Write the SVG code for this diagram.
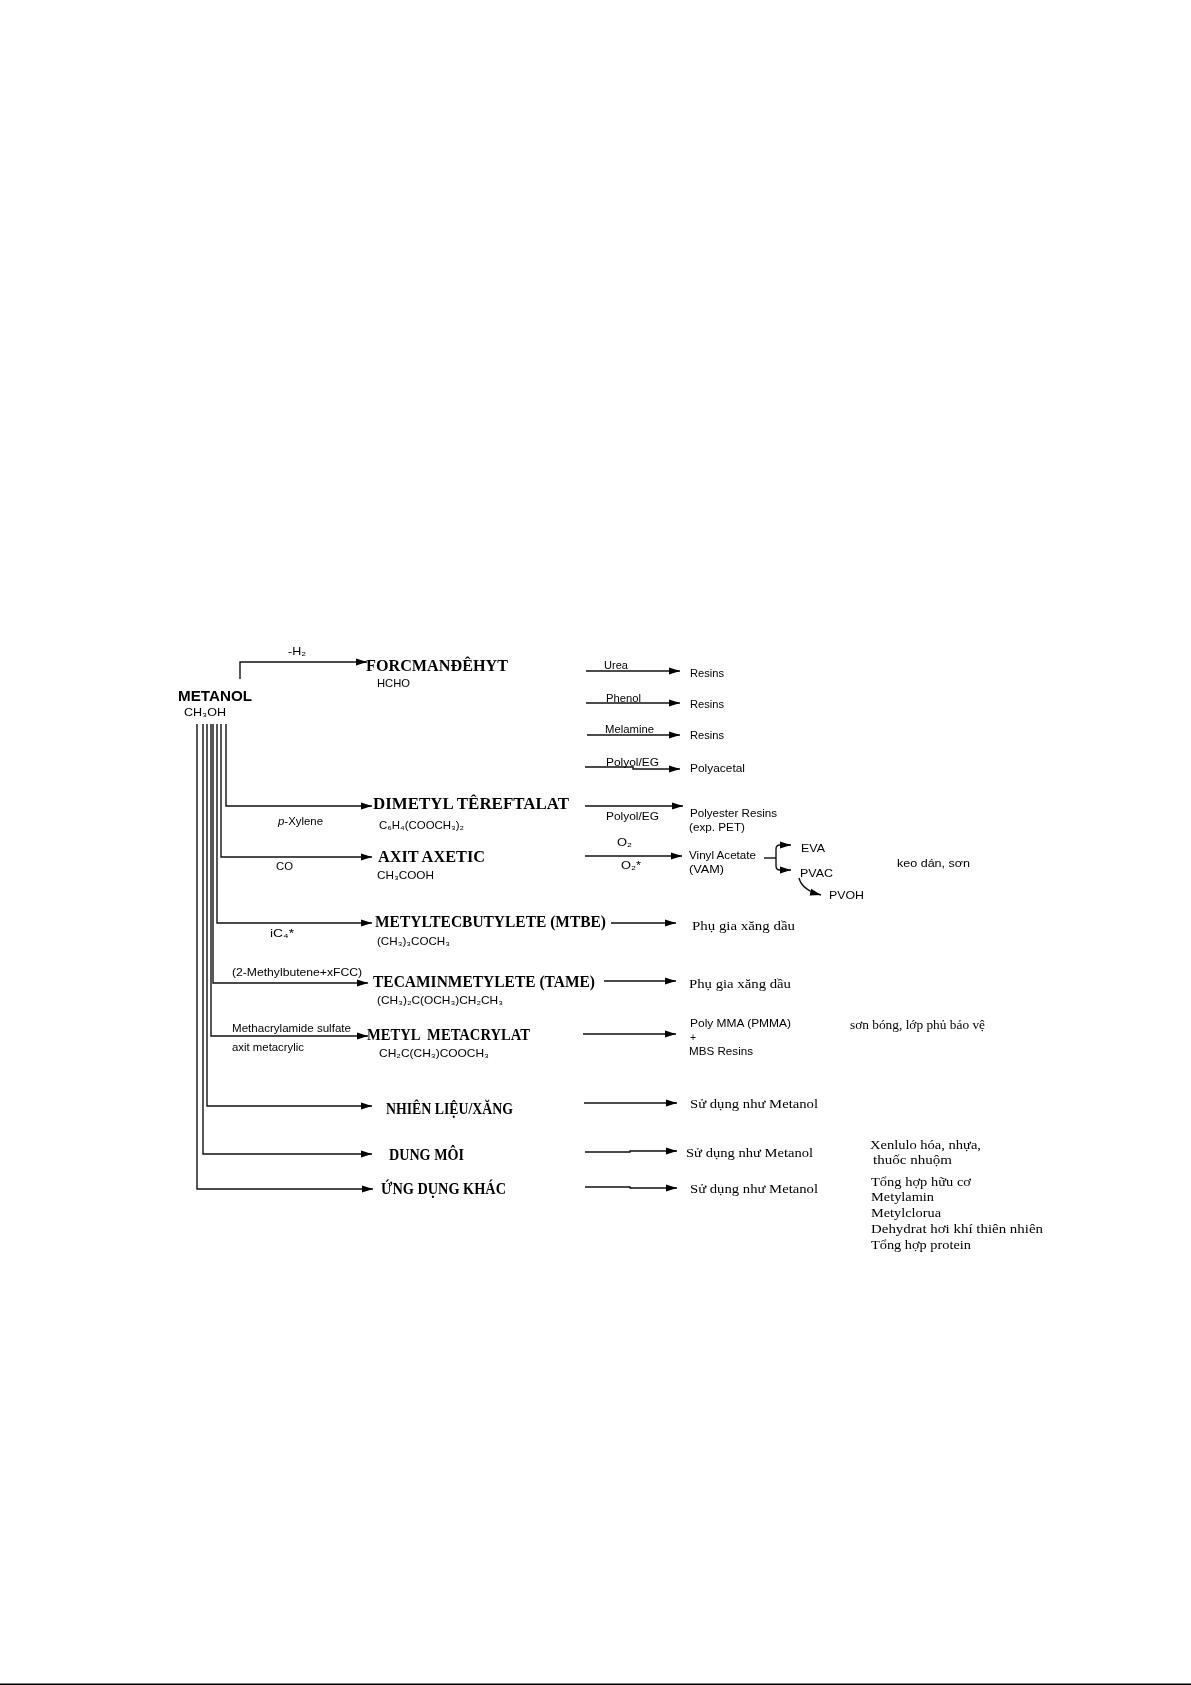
<svg xmlns="http://www.w3.org/2000/svg" width="1191" height="1685" viewBox="0 0 1191 1685">
<style>
text{fill:#000;font-family:"Liberation Sans",Arial,sans-serif;font-size:10.5px}
.h{font-family:"Liberation Serif","Times New Roman",serif;font-weight:bold;font-size:17px}
.m{font-family:"Liberation Sans",Arial,sans-serif;font-weight:bold;font-size:15.5px}
.s{font-family:"Liberation Serif","Times New Roman",serif;font-size:13px}
#connectors path{fill:none;stroke:#111;stroke-width:1.4}
.a{marker-end:url(#arr)}
</style>
<defs>
<marker id="arr" markerUnits="userSpaceOnUse" markerWidth="13" markerHeight="9" refX="11" refY="4.5" orient="auto"><path d="M0 1 L11 4.5 L0 8 Z" fill="#000"/></marker>
<filter id="b" x="-2%" y="-2%" width="104%" height="104%"><feGaussianBlur stdDeviation="0.45"/></filter>
</defs>
<rect width="1191" height="1685" fill="#fff"/>
<rect id="page-edge" x="0" y="1683.5" width="1191" height="1.5" fill="#000"/>
<g filter="url(#b)">
<g id="connectors">
<path class="a" d="M240 679V662H367"/>
<path class="a" d="M226 724V806H372"/>
<path class="a" d="M221 724V857H372"/>
<path class="a" d="M217 724V923H372"/>
<path class="a" d="M213 724V983H368"/>
<path class="a" d="M211 724V1036H368"/>
<path class="a" d="M207 724V1106H372"/>
<path class="a" d="M203 724V1154H372"/>
<path class="a" d="M197 724V1189H373"/>
<path class="a" d="M586 671H680"/>
<path class="a" d="M586 703H680"/>
<path class="a" d="M587 735H680"/>
<path class="a" d="M585 767H633V769H680"/>
<path class="a" d="M585 806H683"/>
<path class="a" d="M585 856H682"/>
<path d="M764 858H776"/>
<path class="a" d="M776 858V849Q776 845 780 845H791"/>
<path class="a" d="M776 858V866Q776 870 780 870H791"/>
<path class="a" d="M799 878Q802 890 821 895"/>
<path class="a" d="M611 923H676"/>
<path class="a" d="M604 981H676"/>
<path class="a" d="M583 1034H676"/>
<path class="a" d="M584 1103H677"/>
<path class="a" d="M585 1152H630V1151H677"/>
<path class="a" d="M585 1187H630V1188H677"/>
</g>
<g id="metanol"><text class="m" x="178" y="701" textLength="74" lengthAdjust="spacingAndGlyphs">METANOL</text><text x="184" y="716" textLength="42" lengthAdjust="spacingAndGlyphs">CH₃OH</text></g>
<g id="formaldehyt"><text class="h" x="366" y="671" textLength="142" lengthAdjust="spacingAndGlyphs">FORCMANĐÊHYT</text><text x="377" y="687" textLength="33" lengthAdjust="spacingAndGlyphs">HCHO</text><text x="288" y="655" textLength="18" lengthAdjust="spacingAndGlyphs">-H₂</text></g>
<g id="dimetyl"><text class="h" x="373" y="809" textLength="196" lengthAdjust="spacingAndGlyphs">DIMETYL TÊREFTALAT</text><text x="379" y="829" textLength="85" lengthAdjust="spacingAndGlyphs">C₆H₄(COOCH₃)₂</text><text x="278" y="825" textLength="45" lengthAdjust="spacingAndGlyphs"><tspan font-style="italic">p</tspan>-Xylene</text></g>
<g id="axit"><text class="h" x="378" y="862" textLength="107" lengthAdjust="spacingAndGlyphs">AXIT AXETIC</text><text x="377" y="879" textLength="57" lengthAdjust="spacingAndGlyphs">CH₃COOH</text><text x="276" y="870" textLength="17" lengthAdjust="spacingAndGlyphs">CO</text></g>
<g id="mtbe"><text class="h" x="375" y="927" textLength="231" lengthAdjust="spacingAndGlyphs">METYLTECBUTYLETE (MTBE)</text><text x="377" y="945" textLength="73" lengthAdjust="spacingAndGlyphs">(CH₃)₃COCH₃</text><text x="270" y="937" textLength="24" lengthAdjust="spacingAndGlyphs">iC₄*</text></g>
<g id="tame"><text class="h" x="373" y="987" textLength="222" lengthAdjust="spacingAndGlyphs">TECAMINMETYLETE (TAME)</text><text x="377" y="1004" textLength="126" lengthAdjust="spacingAndGlyphs">(CH₃)₂C(OCH₃)CH₂CH₃</text><text x="232" y="976" textLength="130" lengthAdjust="spacingAndGlyphs">(2-Methylbutene+xFCC)</text></g>
<g id="mma"><text class="h" x="367" y="1040" textLength="163" lengthAdjust="spacingAndGlyphs" xml:space="preserve">METYL  METACRYLAT</text><text x="379" y="1057" textLength="110" lengthAdjust="spacingAndGlyphs">CH₂C(CH₃)COOCH₃</text><text x="232" y="1032" textLength="119" lengthAdjust="spacingAndGlyphs">Methacrylamide sulfate</text><text x="232" y="1051" textLength="72" lengthAdjust="spacingAndGlyphs">axit metacrylic</text></g>
<g id="nhienlieu"><text class="h" x="386" y="1114" textLength="127" lengthAdjust="spacingAndGlyphs">NHIÊN LIỆU/XĂNG</text></g>
<g id="dungmoi"><text class="h" x="389" y="1160" textLength="75" lengthAdjust="spacingAndGlyphs">DUNG MÔI</text></g>
<g id="ungdung"><text class="h" x="381" y="1194" textLength="125" lengthAdjust="spacingAndGlyphs">ỨNG DỤNG KHÁC</text></g>
<g id="urea"><text x="604" y="669" textLength="24" lengthAdjust="spacingAndGlyphs">Urea</text><text x="690" y="677" textLength="34" lengthAdjust="spacingAndGlyphs">Resins</text></g>
<g id="phenol"><text x="606" y="702" textLength="35" lengthAdjust="spacingAndGlyphs">Phenol</text><text x="690" y="708" textLength="34" lengthAdjust="spacingAndGlyphs">Resins</text></g>
<g id="melamine"><text x="605" y="733" textLength="49" lengthAdjust="spacingAndGlyphs">Melamine</text><text x="690" y="739" textLength="34" lengthAdjust="spacingAndGlyphs">Resins</text></g>
<g id="polyacetal"><text x="606" y="766" textLength="53" lengthAdjust="spacingAndGlyphs">Polyol/EG</text><text x="690" y="772" textLength="55" lengthAdjust="spacingAndGlyphs">Polyacetal</text></g>
<g id="polyester"><text x="606" y="820" textLength="53" lengthAdjust="spacingAndGlyphs">Polyol/EG</text><text x="690" y="817" textLength="87" lengthAdjust="spacingAndGlyphs">Polyester Resins</text><text x="689" y="831" textLength="56" lengthAdjust="spacingAndGlyphs">(exp. PET)</text></g>
<g id="vam"><text x="617" y="846" textLength="15" lengthAdjust="spacingAndGlyphs">O₂</text><text x="621" y="869" textLength="20" lengthAdjust="spacingAndGlyphs">O₂*</text><text x="689" y="859" textLength="67" lengthAdjust="spacingAndGlyphs">Vinyl Acetate</text><text x="689" y="873" textLength="35" lengthAdjust="spacingAndGlyphs">(VAM)</text></g>
<g id="eva"><text x="801" y="852" textLength="24" lengthAdjust="spacingAndGlyphs">EVA</text></g>
<g id="pvac"><text x="800" y="877" textLength="33" lengthAdjust="spacingAndGlyphs">PVAC</text></g>
<g id="pvoh"><text x="829" y="899" textLength="35" lengthAdjust="spacingAndGlyphs">PVOH</text></g>
<g id="keo"><text x="897" y="867" textLength="73" lengthAdjust="spacingAndGlyphs">keo dán, sơn</text></g>
<g id="phugia1"><text class="s" x="692" y="930" textLength="103" lengthAdjust="spacingAndGlyphs">Phụ gia xăng dầu</text></g>
<g id="phugia2"><text class="s" x="689" y="988" textLength="102" lengthAdjust="spacingAndGlyphs">Phụ gia xăng dầu</text></g>
<g id="pmma"><text x="690" y="1027" textLength="101" lengthAdjust="spacingAndGlyphs">Poly MMA (PMMA)</text><text x="690" y="1041">+</text><text x="689" y="1055" textLength="64" lengthAdjust="spacingAndGlyphs">MBS Resins</text></g>
<g id="sonbong"><text class="s" x="850" y="1029" textLength="135" lengthAdjust="spacingAndGlyphs">sơn bóng, lớp phủ bảo vệ</text></g>
<g id="sd1"><text class="s" x="690" y="1108" textLength="128" lengthAdjust="spacingAndGlyphs">Sử dụng như Metanol</text></g>
<g id="sd2"><text class="s" x="686" y="1157" textLength="127" lengthAdjust="spacingAndGlyphs">Sử dụng như Metanol</text></g>
<g id="sd3"><text class="s" x="690" y="1193" textLength="128" lengthAdjust="spacingAndGlyphs">Sử dụng như Metanol</text></g>
<g id="dm"><text class="s" x="870" y="1149" textLength="111" lengthAdjust="spacingAndGlyphs">Xenlulo hóa, nhựa,</text><text class="s" x="873" y="1164" textLength="79" lengthAdjust="spacingAndGlyphs">thuốc nhuộm</text></g>
<g id="khac"><text class="s" x="871" y="1186" textLength="100" lengthAdjust="spacingAndGlyphs">Tổng hợp hữu cơ</text><text class="s" x="871" y="1201" textLength="63" lengthAdjust="spacingAndGlyphs">Metylamin</text><text class="s" x="871" y="1217" textLength="70" lengthAdjust="spacingAndGlyphs">Metylclorua</text><text class="s" x="871" y="1233" textLength="172" lengthAdjust="spacingAndGlyphs">Dehydrat hơi khí thiên nhiên</text><text class="s" x="871" y="1249" textLength="100" lengthAdjust="spacingAndGlyphs">Tổng hợp protein</text></g>
</g>
</svg>
